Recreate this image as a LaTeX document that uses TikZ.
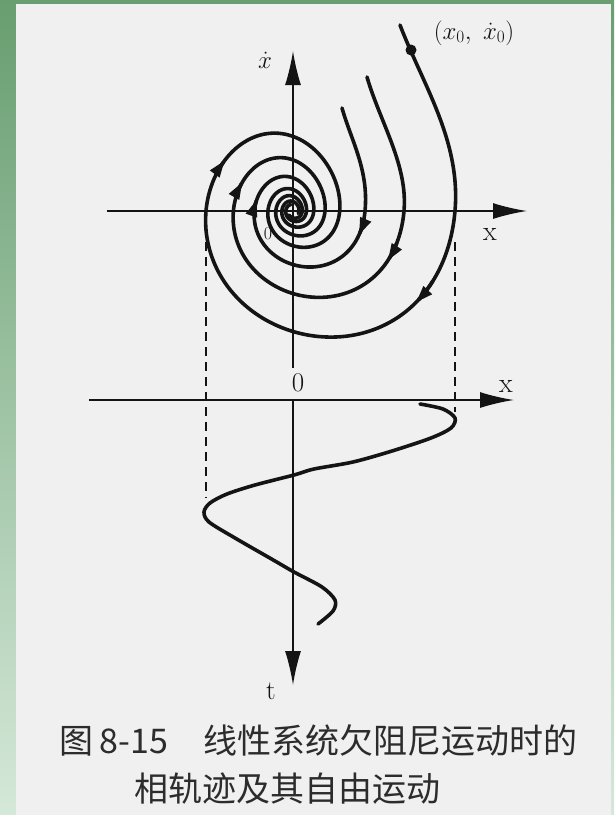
\documentclass[tikz,border=0pt]{standalone}
\usepackage{amsmath}
\usepackage{fontspec}
\newfontfamily\cjk{Noto Sans CJK SC}
\usetikzlibrary{arrows.meta}
\definecolor{panelgray}{RGB}{240,240,240}
\definecolor{leafdark}{RGB}{104,158,112}
\definecolor{leaflight}{RGB}{213,232,217}
\definecolor{ink}{RGB}{20,20,20}

\begin{document}
\begin{tikzpicture}[x=1pt, y=-1pt, >={Latex[length=34pt,width=16pt]},
    axis/.style={line width=1.6pt, draw=ink},
    traj/.style={line width=3.6pt, draw=ink, line join=round, line cap=round},
    guide/.style={line width=1.6pt, draw=ink, dash pattern=on 9pt off 6pt},
    tipseg/.style={line width=3.6pt, draw=ink, -{Triangle[length=17pt,width=11pt]}},
    declare function={sx(\amp,\ph)=293+\amp*exp(-0.198*\ph)*(cos(\ph r)+0.1*sin(\ph r));
                      sy(\amp,\ph)=211+\amp*exp(-0.198*\ph)*sin(\ph r)*(1.12-0.08*sin(\ph r));}]
    \shade[top color=leafdark, bottom color=leaflight] (0,0) rectangle (614,815);
    \fill[panelgray] (16,4) rectangle (611,815);
    \useasboundingbox (0,0) rectangle (614,815);

    \coordinate (O) at (293,211);
    \coordinate (xa) at (107,211);
    \coordinate (xb) at (527,211);
    \coordinate (ya) at (293,368);
    \coordinate (yb) at (293,51);
    \coordinate (O2) at (293,400);
    \coordinate (ua) at (89,400);
    \coordinate (ub) at (514,400);
    \coordinate (tb) at (293,685);

    \draw[axis, ->] (xa) -- (xb);
    \draw[axis, ->] (ya) -- (yb);
    \draw[axis, ->] (ua) -- (ub);
    \draw[axis, ->] (O2) -- (tb);

    \draw[guide] (206,242) -- (206,498);
    \draw[guide] (455,242) -- (455,412);

    \draw[traj] (400,25) .. controls (423,85) and (461,141) .. (455,211)
      -- plot[smooth, variable=\t, domain=0:17, samples=360] ({sx(162,\t)},{sy(162,\t)});
    \draw[traj] (367,77) .. controls (380,122) and (408,165) .. (404,211)
      -- plot[smooth, variable=\t, domain=0:15, samples=320] ({sx(111,\t)},{sy(111,\t)});
    \draw[traj] (342,108) .. controls (351,140) and (369,170) .. (365,211)
      -- plot[smooth, variable=\t, domain=0:13, samples=280] ({sx(72,\t)},{sy(72,\t)});

    \foreach \amp/\ta/\tb in {162/0.45/0.64, 162/3.55/3.74, 111/0.28/0.47,
                              111/3.42/3.62, 72/0.13/0.33, 72/3.2/3.42}
      \draw[tipseg] plot[variable=\t, domain=\ta:\tb, samples=8] ({sx(\amp,\t)},{sy(\amp,\t)});

    \fill[ink] (411,50) circle (5.5pt);

    \draw[traj] plot[smooth] coordinates {(420,404) (443,409) (455,418) (451,428)
      (431,438) (392,451) (353,462) (314,469) (294,475) (255,485) (227,494)
      (210,503) (204,512) (209,522) (235,538) (275,561) (294,572) (322,587)
      (335,600) (333,611) (318,624)};

    \node[text=ink, inner sep=0pt] (lorig) at (268,234) {\fontsize{18}{20}\selectfont 0};
    \node[text=ink] (lxdot) at (265,60) {\fontsize{26}{30}\selectfont $\dot{x}$};
    \node[text=ink] (lx0) at (474,33) {\fontsize{24}{28}\selectfont $(x_0,\ \dot{x}_0)$};
    \node[text=ink] (lx) at (490,234) {\fontsize{28}{32}\selectfont x};
    \node[text=ink] (lzero) at (298,383) {\fontsize{27}{30}\selectfont 0};
    \node[text=ink] (lxlow) at (506,386) {\fontsize{28}{32}\selectfont x};
    \node[text=ink] (lt) at (271,691) {\fontsize{27}{30}\selectfont t};

    \node[anchor=base west, text=ink!90] (cap1) at (56,753)
      {\cjk\fontsize{34}{40}\selectfont 图\hspace{6pt}8-15\hspace{36pt}线性系统欠阻尼运动时的};
    \node[anchor=base west, text=ink!90] (cap2) at (131,801)
      {\cjk\fontsize{34}{40}\selectfont 相轨迹及其自由运动};
\end{tikzpicture}
\end{document}
